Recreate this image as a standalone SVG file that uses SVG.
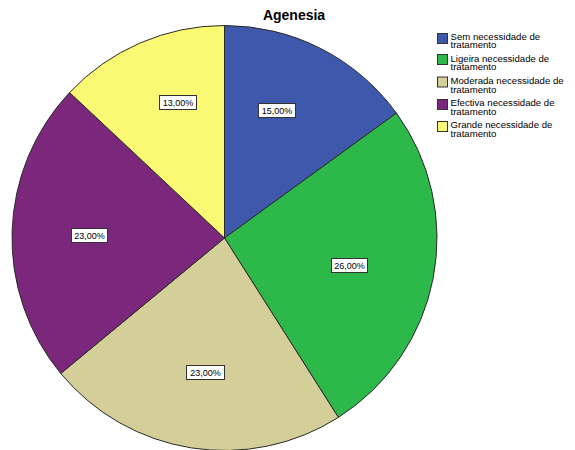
<svg xmlns="http://www.w3.org/2000/svg" width="575" height="450" viewBox="0 0 575 450">
<style>
.sl{stroke:#2a2a2a;stroke-width:1;stroke-linejoin:round}
.lb{fill:#fff;stroke:#333;stroke-width:1}
.lt{font-family:"Liberation Sans",Arial,sans-serif;font-size:9px;fill:#000;text-anchor:middle}
.lg{font-family:"Liberation Sans",Arial,sans-serif;font-size:9.6px;fill:#000}
.sq{stroke:#333;stroke-width:1}
.title{font-family:"Liberation Sans",Arial,sans-serif;font-size:14px;font-weight:bold;fill:#000;text-anchor:middle}
</style>
<rect width="575" height="450" fill="#fff"/>
<text class="title" x="294" y="20">Agenesia</text>
<g id="slices">
<g id="slice-sem"><path class="sl" fill="#3E58AC" d="M224.5,238 L224.5,25.5 A212.5,212.5 0 0 1 396.42,113.1 Z"/></g>
<g id="slice-ligeira"><path class="sl" fill="#2DB84A" d="M224.5,238 L396.42,113.1 A212.5,212.5 0 0 1 338.36,417.42 Z"/></g>
<g id="slice-moderada"><path class="sl" fill="#D4CE98" d="M224.5,238 L338.36,417.42 A212.5,212.5 0 0 1 60.77,373.45 Z"/></g>
<g id="slice-efectiva"><path class="sl" fill="#7B277C" d="M224.5,238 L60.77,373.45 A212.5,212.5 0 0 1 69.59,92.53 Z"/></g>
<g id="slice-grande"><path class="sl" fill="#FBF873" d="M224.5,238 L69.59,92.53 A212.5,212.5 0 0 1 224.5,25.5 Z"/></g>
</g>
<g id="labels">
<g id="label-sem"><rect class="lb" x="258.5" y="103.5" width="37" height="14"/><text class="lt" x="277" y="114">15,00%</text></g>
<g id="label-grande"><rect class="lb" x="159.5" y="95.5" width="37" height="14"/><text class="lt" x="178" y="106">13,00%</text></g>
<g id="label-efectiva"><rect class="lb" x="71.5" y="228.5" width="36" height="14"/><text class="lt" x="89.5" y="239">23,00%</text></g>
<g id="label-ligeira"><rect class="lb" x="331.5" y="258.5" width="36" height="14"/><text class="lt" x="349.5" y="269">26,00%</text></g>
<g id="label-moderada"><rect class="lb" x="186.5" y="365.5" width="38" height="14"/><text class="lt" x="205.5" y="376">23,00%</text></g>
</g>
<g id="legend">
<g id="leg-sem"><rect class="sq" fill="#3E58AC" x="437.5" y="33.5" width="10" height="10"/><text class="lg" x="450.5" y="39.5">Sem necessidade de</text><text class="lg" x="450.5" y="48.3">tratamento</text></g>
<g id="leg-ligeira"><rect class="sq" fill="#2DB84A" x="437.5" y="54.5" width="10" height="10"/><text class="lg" x="450.5" y="61.5">Ligeira necessidade de</text><text class="lg" x="450.5" y="70.3">tratamento</text></g>
<g id="leg-moderada"><rect class="sq" fill="#D4CE98" x="437.5" y="77" width="10" height="10"/><text class="lg" x="450.5" y="84">Moderada necessidade de</text><text class="lg" x="450.5" y="92.8">tratamento</text></g>
<g id="leg-efectiva"><rect class="sq" fill="#7B277C" x="437.5" y="99.5" width="10" height="10"/><text class="lg" x="450.5" y="106">Efectiva necessidade de</text><text class="lg" x="450.5" y="114.8">tratamento</text></g>
<g id="leg-grande"><rect class="sq" fill="#FBF873" x="437.5" y="121.5" width="10" height="10"/><text class="lg" x="450.5" y="128">Grande necessidade de</text><text class="lg" x="450.5" y="136.8">tratamento</text></g>
</g>
</svg>
